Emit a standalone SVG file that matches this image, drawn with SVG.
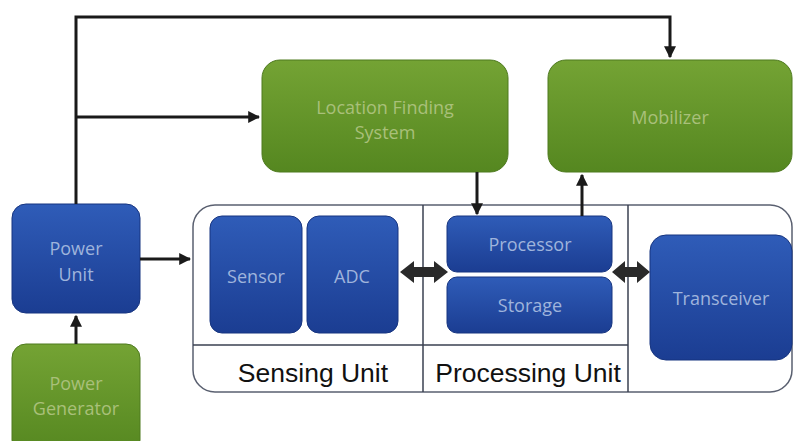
<svg xmlns="http://www.w3.org/2000/svg" width="794" height="441" viewBox="0 0 794 441">
<defs>
<linearGradient id="gBlue" x1="0" y1="0" x2="0" y2="1">
<stop offset="0" stop-color="#2f5cb8"/>
<stop offset="1" stop-color="#1b3d92"/>
</linearGradient>
<linearGradient id="gGreen" x1="0" y1="0" x2="0" y2="1">
<stop offset="0" stop-color="#74a334"/>
<stop offset="1" stop-color="#558720"/>
</linearGradient>
<marker id="ah" viewBox="0 0 10 10" refX="9" refY="5" markerWidth="4" markerHeight="4" orient="auto" markerUnits="strokeWidth">
<path d="M0,0 L10,5 L0,10 z" fill="#1a1a1a"/>
</marker>
<style>
.blue{fill:url(#gBlue);stroke:#173580;stroke-width:1}
.green{fill:url(#gGreen);stroke:#4e7a1f;stroke-width:1}
.bt{font-family:"Open Sans","Noto Sans",sans-serif;font-size:18px;fill:#9fb4dc;text-anchor:middle}
.gt{font-family:"Open Sans","Noto Sans",sans-serif;font-size:18px;fill:#a9c07a;text-anchor:middle}
.lab{font-family:"Liberation Sans",Arial,sans-serif;font-size:26.5px;fill:#111;text-anchor:middle}
.ln{stroke:#1a1a1a;stroke-width:3;fill:none}
.frame{fill:#fff;stroke:#5a6070;stroke-width:1.5}
.div{stroke:#3a4050;stroke-width:1.5;fill:none}
</style>
</defs>
<rect width="794" height="441" fill="#fff"/>

<g id="container">
<rect class="frame" x="193" y="205" width="599" height="187" rx="22"/>
<line class="div" x1="193" y1="345" x2="628" y2="345"/>
<line class="div" x1="423" y1="205" x2="423" y2="392"/>
<line class="div" x1="628" y1="205" x2="628" y2="392"/>
<text class="lab" x="313" y="382">Sensing Unit</text>
<text class="lab" x="528" y="382">Processing Unit</text>
</g>

<g id="power-unit">
<rect class="blue" x="12" y="204" width="128" height="109" rx="14"/>
<text class="bt" x="76" y="255">Power</text>
<text class="bt" x="76" y="281">Unit</text>
</g>
<g id="power-generator">
<rect class="green" x="12" y="344" width="128" height="110" rx="14"/>
<text class="gt" x="76" y="390">Power</text>
<text class="gt" x="76" y="415">Generator</text>
</g>
<g id="location-finding-system">
<rect class="green" x="262" y="60" width="246" height="112" rx="18"/>
<text class="gt" x="385" y="114">Location Finding</text>
<text class="gt" x="385" y="139">System</text>
</g>
<g id="mobilizer">
<rect class="green" x="548" y="60" width="244" height="112" rx="18"/>
<text class="gt" x="670" y="124">Mobilizer</text>
</g>
<g id="sensor">
<rect class="blue" x="210" y="216" width="92" height="117" rx="12"/>
<text class="bt" x="256" y="283">Sensor</text>
</g>
<g id="adc">
<rect class="blue" x="307" y="216" width="91" height="117" rx="12"/>
<text class="bt" x="352" y="283">ADC</text>
</g>
<g id="processor">
<rect class="blue" x="447" y="216" width="165" height="56" rx="10"/>
<text class="bt" x="530" y="251">Processor</text>
</g>
<g id="storage">
<rect class="blue" x="447" y="277" width="165" height="56" rx="10"/>
<text class="bt" x="530" y="312">Storage</text>
</g>
<g id="transceiver">
<rect class="blue" x="650" y="235" width="142" height="125" rx="16"/>
<text class="bt" x="721" y="305">Transceiver</text>
</g>

<g id="connectors">
<polyline class="ln" points="76,204 76,17 670,17 670,57" marker-end="url(#ah)"/>
<line class="ln" x1="76" y1="117" x2="259" y2="117" marker-end="url(#ah)"/>
<line class="ln" x1="140" y1="259" x2="190" y2="259" marker-end="url(#ah)"/>
<line class="ln" x1="76" y1="344" x2="76" y2="316" marker-end="url(#ah)"/>
<line class="ln" x1="477" y1="172" x2="477" y2="214" marker-end="url(#ah)"/>
<line class="ln" x1="582" y1="216" x2="582" y2="175" marker-end="url(#ah)"/>
<polygon fill="#2a2a2a" points="400,272 414,261 414,267 434,267 434,261 448,272 434,283 434,277 414,277 414,283"/>
<polygon fill="#2a2a2a" points="612,272 625,261 625,267 637,267 637,261 650,272 637,283 637,277 625,277 625,283"/>
</g>
</svg>
